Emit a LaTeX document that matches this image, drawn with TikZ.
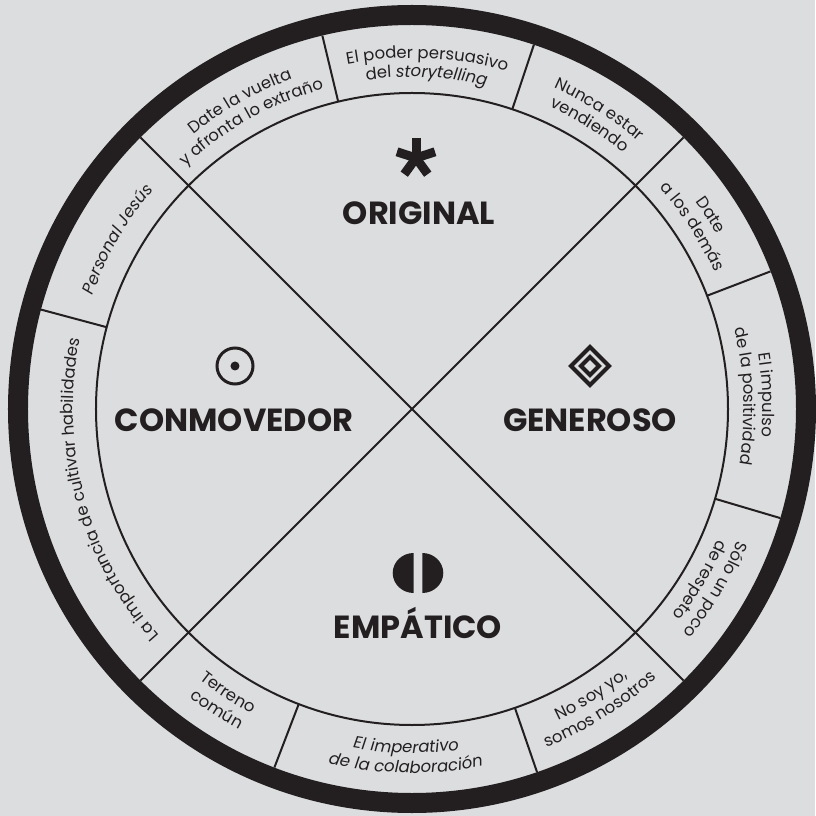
\documentclass[tikz,border=0pt]{standalone}
\usepackage{fontspec}
\setmainfont{Poppins}
\usetikzlibrary{decorations.text}
\definecolor{ink}{HTML}{231F20}
\definecolor{paper}{HTML}{DCDDDF}
\newcommand\bandfont{\fontsize{16.5}{19}\selectfont\color{ink}}
% text on an arc: start angle, end angle, radius, text
\newcommand\ringtext[4]{\path[decorate,decoration={text along path,text align=center,text={#4}}]
  (#1:#3) arc[start angle=#1,end angle=#2,radius=#3];}

\begin{document}
\begin{tikzpicture}[x=1pt,y=1pt,
  rule/.style={ink,line width=2pt},
  quarter/.style={font=\fontsize{32}{38}\selectfont\bfseries,text=ink,anchor=base}]
  \fill[paper] (-412,-407) rectangle (403,409);
  \draw[ink,line width=20pt] (0,0) circle (394);
  \draw[rule] (0,0) circle (316);
  \draw[rule] (135:384)--(-45:384);
  \draw[rule] (45:384)--(225:384);
  \foreach \a in {103.5,71.5,21,-16.5,-71,-111,165}
    \draw[rule] (\a:316)--(\a:384);

  \node[quarter] (original) at (7,184) {ORIGINAL};
  \node[quarter] (conmovedor) at (-178,-23) {CONMOVEDOR};
  \node[quarter] (generoso) at (178,-23) {GENEROSO};
  \node[quarter] (empatico) at (6,-229) {EMPÁTICO};

  % symbols
  \foreach \a in {18,90,162,234,306}
    \draw[ink,line width=9pt] (4,251)--++(\a:20);
  \draw[ink,line width=3pt] (-177,43) circle (18);
  \fill[ink] (-177,43) circle (4.5);
  \draw[ink,line width=4pt] (178,62)--(197,43)--(178,24)--(159,43)--cycle;
  \draw[ink,line width=4pt] (178,52)--(187,43)--(178,34)--(169,43)--cycle;
  \fill[ink] (1.7,-144) arc[start angle=90,end angle=270,x radius=21,y radius=20]--cycle;
  \fill[ink] (10.3,-144) arc[start angle=90,end angle=-90,x radius=21,y radius=20]--cycle;

  % band
  \ringtext{122.5}{52.5}{351}{|\bandfont|El poder persuasivo}
  \ringtext{122.5}{52.5}{332}{|\bandfont|del |\bandfont\itshape|storytelling}
  \ringtext{93}{23}{351}{|\bandfont|Nunca estar}
  \ringtext{93}{23}{332}{|\bandfont|vendiendo}
  \ringtext{68}{-2}{351}{|\bandfont|Date}
  \ringtext{68}{-2}{332}{|\bandfont|a los demás}
  \ringtext{37.25}{-32.75}{351}{|\bandfont|El impulso}
  \ringtext{37.25}{-32.75}{332}{|\bandfont|de la positividad}
  \ringtext{4.25}{-65.75}{351}{|\bandfont|Sólo un poco}
  \ringtext{4.25}{-65.75}{332}{|\bandfont|de respeto}
  \ringtext{267}{337}{344}{|\bandfont|No soy yo,}
  \ringtext{267}{337}{364}{|\bandfont|somos nosotros}
  \ringtext{234}{304}{344}{|\bandfont\itshape|El imperativo}
  \ringtext{234}{304}{364}{|\bandfont\itshape|de la colaboración}
  \ringtext{202}{272}{344}{|\bandfont|Terreno}
  \ringtext{202}{272}{364}{|\bandfont|común}
  \ringtext{235}{155}{339}{|\bandfont|La importancia de cultivar habilidades}
  \ringtext{185}{115}{339}{|\bandfont\itshape|Personal Jesús}
  \ringtext{154.25}{84.25}{351}{|\bandfont|Date la vuelta}
  \ringtext{154.25}{84.25}{332}{|\bandfont|y afronta lo extraño}
\end{tikzpicture}
\end{document}
